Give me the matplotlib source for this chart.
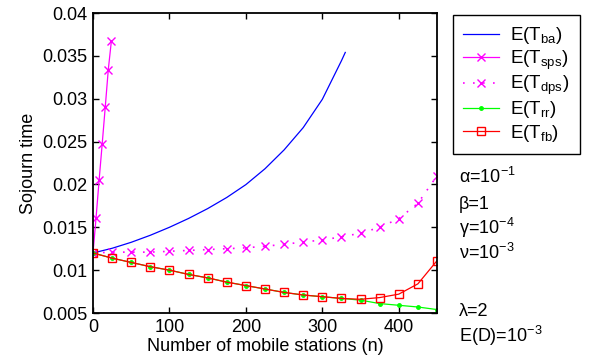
import matplotlib
matplotlib.use("Agg")
import matplotlib.pyplot as plt
import numpy as np

plt.rcParams['font.family'] = ['Liberation Sans', 'DejaVu Sans']
plt.rcParams['mathtext.fontset'] = 'custom'
plt.rcParams['mathtext.rm'] = 'Liberation Sans'
plt.rcParams['mathtext.it'] = 'Liberation Sans:italic'
plt.rcParams['font.size'] = 13

# values
n_ba = [0, 25, 50, 75, 100, 125, 150, 175, 200, 225, 250, 275, 300, 325, 330]
t_ba = [0.0120, 0.01255, 0.01325, 0.01407, 0.0150, 0.01603, 0.01718, 0.01848, 0.01998,
        0.02183, 0.02403, 0.02663, 0.02993, 0.03443, 0.0354]

n_sps = [0, 4, 8, 12, 16, 20, 24]
t_sps = [0.0120, 0.0161, 0.0205, 0.0247, 0.0290, 0.0334, 0.0367]

n_step = list(range(0, 451, 25))
t_dps = [0.0120, 0.0121, 0.0121, 0.0121, 0.0122, 0.0123, 0.0124, 0.0125, 0.0126, 0.0128,
         0.0130, 0.0133, 0.0135, 0.0139, 0.0143, 0.0150, 0.0160, 0.0178, 0.0210]
t_rr = [0.0120, 0.0114, 0.0109, 0.0104, 0.0100, 0.0095, 0.0091, 0.0086, 0.0082, 0.0078,
        0.0074, 0.0071, 0.0069, 0.0067, 0.0065, 0.0061, 0.0059, 0.0057, 0.0054]
t_fb = [0.0120, 0.0114, 0.0109, 0.0104, 0.0100, 0.0095, 0.0091, 0.0086, 0.0082, 0.0078,
        0.0074, 0.0071, 0.0069, 0.0067, 0.0066, 0.0068, 0.0072, 0.0084, 0.0111]

legend_labels = [r'E(T$_{\mathrm{ba}}$)', r'E(T$_{\mathrm{sps}}$)', r'E(T$_{\mathrm{dps}}$)',
                 r'E(T$_{\mathrm{rr}}$)', r'E(T$_{\mathrm{fb}}$)']
param_lines = [(r'α=10$^{-1}$', 183), ('β=1', 209), (r'γ=10$^{-4}$', 234),
               (r'ν=10$^{-3}$', 259), ('λ=2', 316), (r'E(D)=10$^{-3}$', 342)]

W, H = 589, 360
fig = plt.figure(figsize=(W / 100, H / 100), dpi=100)
ax = fig.add_axes([93 / W, 1 - 313 / H, (437 - 93) / W, (313 - 13) / H])

lw = 0.9
ax.plot(n_ba, t_ba, color='blue', lw=lw, label=legend_labels[0])
ax.plot(n_sps, t_sps, color='magenta', lw=lw, marker='x', ms=6, mew=1,
        label=legend_labels[1])
ax.plot(n_step, t_dps, color='magenta', lw=1.2, ls=(0, (1, 5)), marker='x', ms=6, mew=1,
        label=legend_labels[2])
ax.plot(n_step, t_rr, color='#00ff00', lw=lw, marker='.', ms=5, label=legend_labels[3])
ax.plot(n_step, t_fb, color='red', lw=lw, marker='s', ms=6, mfc='none', mew=1,
        label=legend_labels[4])

ax.set_xlim(0, 450)
ax.set_ylim(0.005, 0.04)
ax.set_xticks([0, 100, 200, 300, 400])
yt = np.arange(0.005, 0.0401, 0.005)
ax.set_yticks(yt)
ax.set_yticklabels(['%g' % round(v, 3) for v in yt])
ax.tick_params(direction='in', top=True, right=True, length=4, width=1, pad=4)
for s in ax.spines.values():
    s.set_linewidth(1.3)

ax.set_xlabel('Number of mobile stations (n)', labelpad=2)
ax.set_ylabel('Sojourn time', labelpad=4)

leg = ax.legend(loc='upper left', bbox_to_anchor=(453 / W, 1 - 15 / H),
                bbox_transform=fig.transFigure, borderaxespad=0, fancybox=False,
                edgecolor='black', framealpha=1, handlelength=1.9, handletextpad=0.6,
                labelspacing=0.12, borderpad=0.55, fontsize=13.5)
leg.get_frame().set_linewidth(1.0)

for txt, yb in param_lines:
    fig.text(459 / W, 1 - yb / H, txt, fontsize=13, va='baseline', ha='left')

fig.savefig('out.png', dpi=100)
